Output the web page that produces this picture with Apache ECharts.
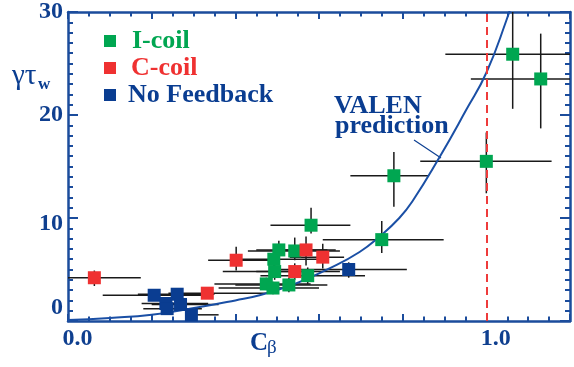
<!DOCTYPE html>
<html><head><meta charset="utf-8">
<script src="https://cdn.jsdelivr.net/npm/echarts@6/dist/echarts.min.js"></script>
<style>html,body{margin:0;padding:0;background:#fff}#c{width:574px;height:367px}</style>
</head><body><div id="c"></div>
<script>
// ---- Data ----
const iCoilCb   = [1.063, 1.13, 1.0, 0.779, 0.750, 0.581, 0.542, 0.504, 0.492, 0.494, 0.573, 0.474, 0.49, 0.528];
const iCoilG    = [25.9, 23.5, 15.5, 14.1, 7.9, 9.3, 6.8, 6.9, 6.0, 4.8, 4.4, 3.6, 3.2, 3.5];
const iCoilCbLo = [0.902, 0.963, 0.842, 0.675, 0.609, 0.484, 0.43, 0.45, 0.39, 0.37, 0.46, 0.35, 0.36, 0.40];
const iCoilCbHi = [1.22, 1.22, 1.156, 0.862, 0.898, 0.675, 0.65, 0.64, 0.62, 0.58, 0.71, 0.58, 0.60, 0.62];
const iCoilGLo  = [20.6, 18.7, 12.4, 11.1, 6.6, 8.5, 5.9, 6.0, 5.0, 4.0, 3.6, 3.0, 2.6, 2.8];
const iCoilGHi  = [31, 27.9, 18.3, 16.4, 9.7, 11.0, 8.1, 7.8, 7.0, 5.6, 5.2, 4.2, 3.8, 4.2];

const cCoilCb   = [0.063, 0.333, 0.402, 0.569, 0.609, 0.542];
const cCoilG    = [4.2, 2.7, 5.9, 6.9, 6.2, 4.8];
const cCoilCbLo = [0.0, 0.24, 0.335, 0.50, 0.53, 0.45];
const cCoilCbHi = [0.174, 0.50, 0.48, 0.62, 0.66, 0.65];
const cCoilGLo  = [3.4, 2.2, 4.9, 5.4, 5.1, 4.0];
const cCoilGHi  = [4.9, 3.2, 7.2, 8.2, 7.5, 5.6];

const noFbCb    = [0.206, 0.261, 0.234, 0.237, 0.269, 0.295, 0.671];
const noFbG     = [2.5, 2.6, 1.7, 1.2, 1.6, 0.6, 5.0];
const noFbCbLo  = [0.083, 0.167, 0.176, 0.18, 0.20, 0.285, 0.49];
const noFbCbHi  = [0.33, 0.35, 0.335, 0.32, 0.36, 0.36, 0.81];
const noFbGLo   = [2.0, 2.1, 1.2, 0.8, 1.2, 0.2, 4.2];
const noFbGHi   = [3.0, 3.1, 2.2, 1.6, 2.0, 1.0, 5.7];

const valenCb = [0, 0.1, 0.2, 0.308, 0.4, 0.458, 0.522, 0.554, 0.625, 0.697, 0.745, 0.792, 0.823, 0.888, 0.952, 1.0, 1.048, 1.07];
const valenG  = [0.1, 0.3, 0.6, 1.3, 2.0, 2.5, 3.3, 3.8, 5.1, 6.7, 8.2, 10.0, 11.6, 15.9, 20.5, 24.1, 29.2, 32];

const idealWallCb = 1.0;
const yTicks = [0, 10, 20, 30];
const xTickLabels = ['0.0', '1.0'];

// ---- Styling ----
const GREEN = '#00a651', RED = '#ef3131', BLUE = '#0a3d91', AXIS = '#1b4c9c';
const SERIF = '"Liberation Serif", "DejaVu Serif", serif';

function rows(cb, g, cbLo, cbHi, gLo, gHi) {
  return cb.map((v, i) => [v, g[i], cbLo[i], cbHi[i], gLo[i], gHi[i]]);
}
function pts(cb, g) { return cb.map((v, i) => [v, g[i]]); }

const errRows = [].concat(
  rows(iCoilCb, iCoilG, iCoilCbLo, iCoilCbHi, iCoilGLo, iCoilGHi),
  rows(cCoilCb, cCoilG, cCoilCbLo, cCoilCbHi, cCoilGLo, cCoilGHi),
  rows(noFbCb, noFbG, noFbCbLo, noFbCbHi, noFbGLo, noFbGHi)
);

function renderErr(params, api) {
  const x = api.value(0), y = api.value(1);
  const a = api.coord([api.value(2), y]), b = api.coord([api.value(3), y]);
  const c = api.coord([x, api.value(4)]), d = api.coord([x, api.value(5)]);
  const st = { stroke: '#1a1a1a', lineWidth: 1.5 };
  return { type: 'group', children: [
    { type: 'line', shape: { x1: a[0], y1: a[1], x2: b[0], y2: b[1] }, style: st },
    { type: 'line', shape: { x1: c[0], y1: c[1], x2: d[0], y2: d[1] }, style: st }
  ]};
}

const chart = echarts.init(document.getElementById('c'), null, { renderer: 'canvas' });

const axisLineStyle = { color: AXIS, width: 2.5 };
const xCommon = {
  type: 'value', min: 0, max: 1.2, interval: 0.2,
  axisLine: { show: true, onZero: false, lineStyle: axisLineStyle },
  axisTick: { show: true, inside: true, length: 7, lineStyle: { color: AXIS, width: 2 } },
  minorTick: { show: true, splitNumber: 4, length: 4.5, lineStyle: { color: AXIS, width: 2 } },
  splitLine: { show: false }, minorSplitLine: { show: false }
};
const yCommon = {
  type: 'value', min: 0, max: 30, interval: 10,
  axisLine: { show: true, onZero: false, lineStyle: axisLineStyle },
  axisTick: { show: true, inside: true, length: 10, lineStyle: { color: AXIS, width: 2 } },
  minorTick: { show: true, splitNumber: 10, length: 5, lineStyle: { color: AXIS, width: 2 } },
  splitLine: { show: false }, minorSplitLine: { show: false }
};
const labFont = { fontFamily: SERIF, fontWeight: 'bold', fontSize: 24, color: '#0f3f8f' };

chart.setOption({
  animation: false,
  backgroundColor: '#fff',
  grid: { left: 68, right: 4, top: 11, bottom: 46 },
  xAxis: [
    Object.assign({}, xCommon, {
      position: 'bottom',
      axisLabel: {
        show: true, margin: 6,
        formatter: v => (Math.abs(v) < 1e-6 ? '{a|' + xTickLabels[0] + '}' :
                        Math.abs(v - 1) < 1e-6 ? '{a|' + xTickLabels[1] + '}' : ''),
        rich: { a: Object.assign({}, labFont, { padding: [0, 0, 0, 19] }) }
      }
    }),
    Object.assign({}, xCommon, { position: 'top', axisLabel: { show: false } })
  ],
  yAxis: [
    Object.assign({}, yCommon, {
      position: 'left',
      axisLabel: {
        show: true, margin: 5,
        formatter: v => {
          if (yTicks.indexOf(v) < 0) return '';
          if (v === 0) return '{z|' + v + '}';
          if (v === 10) return '{t|' + v + '}';
          return '{n|' + v + '}';
        },
        rich: {
          n: Object.assign({}, labFont),
          z: Object.assign({}, labFont, { padding: [0, 0, 26, 0] }),
          t: Object.assign({}, labFont, { padding: [12, 0, 0, 0] })
        }
      }
    }),
    Object.assign({}, yCommon, { position: 'right', axisLabel: { show: false } })
  ],
  legend: {
    data: ['I-coil', 'C-coil', 'No Feedback'],
    orient: 'vertical', left: 99, top: 23,
    itemWidth: 12, itemHeight: 12, itemGap: 1,
    icon: 'rect',
    formatter: name => name === 'I-coil' ? '{g|I-coil}' : name === 'C-coil' ? '{r|C-coil}' : '{b|No Feedback}',
    textStyle: {
      fontFamily: SERIF, fontWeight: 'bold', fontSize: 26,
      rich: {
        g: { color: GREEN, fontFamily: SERIF, fontWeight: 'bold', fontSize: 26, lineHeight: 20, padding: [0, 0, 0, 11] },
        r: { color: RED, fontFamily: SERIF, fontWeight: 'bold', fontSize: 26, lineHeight: 20, padding: [0, 0, 0, 10] },
        b: { color: BLUE, fontFamily: SERIF, fontWeight: 'bold', fontSize: 26, lineHeight: 20, padding: [0, 0, 0, 7] }
      }
    }
  },
  series: [
    {
      type: 'custom', name: 'errors', renderItem: renderErr, data: errRows, clip: true, z: 1,
      encode: { x: 0, y: 1 }, silent: true
    },
    {
      type: 'line', name: 'VALEN', data: pts(valenCb, valenG), smooth: true, showSymbol: false,
      clip: true, z: 2, lineStyle: { color: '#1a4fa5', width: 2 },
      markLine: {
        silent: true, symbol: ['none', 'none'], label: { show: false },
        lineStyle: { color: '#ee3b3b', width: 2, type: [8, 5] },
        data: [{ xAxis: idealWallCb }]
      }
    },
    { type: 'scatter', name: 'I-coil', data: pts(iCoilCb, iCoilG), symbol: 'rect', symbolSize: 13, itemStyle: { color: GREEN, opacity: 1 }, z: 5 },
    { type: 'scatter', name: 'C-coil', data: pts(cCoilCb, cCoilG), symbol: 'rect', symbolSize: 13, itemStyle: { color: RED, opacity: 1 }, z: 5 },
    { type: 'scatter', name: 'No Feedback', data: pts(noFbCb, noFbG), symbol: 'rect', symbolSize: 13, itemStyle: { color: BLUE, opacity: 1 }, z: 5 }
  ],
  graphic: [
    { type: 'text', x: 12, y: 62, style: { text: 'γτ', font: '29px ' + SERIF, fill: BLUE } },
    { type: 'text', x: 38, y: 76, style: { text: 'w', font: 'bold 17px ' + SERIF, fill: BLUE } },
    { type: 'text', x: 250, y: 331, style: { text: 'C', font: 'bold 25px ' + SERIF, fill: BLUE } },
    { type: 'text', x: 267, y: 339, style: { text: 'β', font: '19px ' + SERIF, fill: BLUE } },
    { type: 'text', x: 334, y: 93, style: { text: 'VALEN', font: 'bold 26px ' + SERIF, fill: BLUE } },
    { type: 'text', x: 335, y: 113, style: { text: 'prediction', font: 'bold 26px ' + SERIF, fill: BLUE } },
    { type: 'line', shape: { x1: 414, y1: 140, x2: 441, y2: 158 }, style: { stroke: BLUE, lineWidth: 1.2 } }
  ]
});
</script>
</body></html>
